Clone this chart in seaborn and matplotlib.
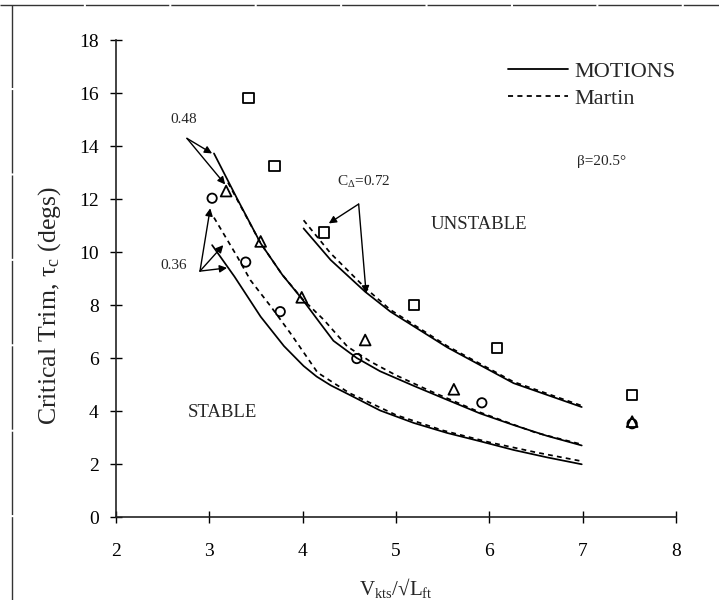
import matplotlib
matplotlib.use("Agg")
import matplotlib.pyplot as plt
from matplotlib.lines import Line2D
import numpy as np
import pandas as pd
import seaborn as sns

# Model curves: critical trim versus speed coefficient for three load coefficients
mot72_x = [4.01, 4.30, 4.67, 4.94, 5.55, 6.26, 6.99]
mot72_y = [10.89, 9.70, 8.50, 7.75, 6.40, 5.05, 4.15]
mar72_x = [4.01, 4.30, 4.67, 4.94, 5.55, 6.26, 6.99]
mar72_y = [11.20, 9.95, 8.65, 7.82, 6.45, 5.10, 4.20]

mot48_x = [3.05, 3.30, 3.55, 3.78, 4.00, 4.18, 4.33, 4.58, 4.83, 5.19, 5.55, 5.90, 6.26, 6.62, 6.99]
mot48_y = [13.72, 12.00, 10.33, 9.15, 8.20, 7.35, 6.65, 6.00, 5.50, 4.95, 4.42, 3.91, 3.47, 3.06, 2.70]
mar48_x = [3.20, 3.55, 3.78, 4.00, 4.23, 4.48, 4.73, 5.00, 5.37, 5.90, 6.50, 6.99]
mar48_y = [12.62, 10.33, 9.15, 8.22, 7.43, 6.43, 5.86, 5.35, 4.75, 3.95, 3.18, 2.74]

mot36_x = [3.03, 3.27, 3.55, 3.80, 4.01, 4.15, 4.30, 4.48, 4.83, 5.19, 5.55, 5.90, 6.26, 6.62, 6.99]
mot36_y = [10.26, 9.07, 7.56, 6.45, 5.70, 5.30, 4.97, 4.65, 4.02, 3.55, 3.17, 2.86, 2.53, 2.25, 1.99]
mar36_x = [3.05, 3.30, 3.44, 3.66, 3.87, 4.16, 4.50, 5.00, 5.50, 6.00, 6.50, 6.97]
mar36_y = [11.30, 9.82, 8.94, 7.94, 6.93, 5.45, 4.68, 3.85, 3.27, 2.82, 2.44, 2.12]

# Experimental points
sq_x = [3.42, 3.70, 4.23, 5.19, 6.08, 7.53]
sq_y = [15.80, 13.25, 10.74, 8.00, 6.39, 4.60]
tri_x = [3.18, 3.55, 3.99, 4.67, 5.62, 7.53]
tri_y = [12.30, 10.40, 8.29, 6.68, 4.82, 3.60]
circ_x = [3.03, 3.39, 3.76, 4.58, 5.92, 7.53]
circ_y = [12.03, 9.62, 7.75, 5.98, 4.31, 3.52]

x_ticks = [2, 3, 4, 5, 6, 7, 8]
y_ticks = [0, 2, 4, 6, 8, 10, 12, 14, 16, 18]

sns.set_style("ticks")
plt.rcParams["font.family"] = ["Liberation Serif", "DejaVu Serif"]
plt.rcParams["mathtext.fontset"] = "custom"
plt.rcParams["mathtext.rm"] = "Liberation Serif"
plt.rcParams["mathtext.it"] = "Liberation Serif:italic"

curves = []
for name, method, xs, ys in [
    ("m72", "MOTIONS", mot72_x, mot72_y), ("d72", "Martin", mar72_x, mar72_y),
    ("m48", "MOTIONS", mot48_x, mot48_y), ("d48", "Martin", mar48_x, mar48_y),
    ("m36", "MOTIONS", mot36_x, mot36_y), ("d36", "Martin", mar36_x, mar36_y),
]:
    curves.append(pd.DataFrame({"x": xs, "y": ys, "curve": name, "method": method}))
df = pd.concat(curves, ignore_index=True)

fig = plt.figure(figsize=(7.19, 6.0), dpi=100)
ax = fig.add_axes([0.1613, 0.1383, 0.7789, 0.795])

sns.lineplot(data=df, x="x", y="y", units="curve", style="method",
             estimator=None, sort=False, color="black", linewidth=1.25,
             dashes={"MOTIONS": "", "Martin": (2.8, 2.4)},
             style_order=["MOTIONS", "Martin"], legend=False, ax=ax)

for xs, ys, mk, sz in [(sq_x, sq_y, "s", 55), (tri_x, tri_y, "^", 60), (circ_x, circ_y, "o", 45)]:
    sns.scatterplot(x=xs, y=ys, marker=mk, s=sz, ax=ax, legend=False)
    pts = ax.collections[-1]
    pts.set_facecolor("none")
    pts.set_edgecolor("black")
    pts.set_linewidth(1.3)

ax.set_xlim(2, 8)
ax.set_ylim(0, 18)
ax.set_xticks(x_ticks)
ax.set_yticks(y_ticks)
ax.tick_params(direction="inout", length=9, width=1.0, labelsize=14, colors="black")
ax.tick_params(axis="x", pad=14)
ax.tick_params(axis="y", pad=8)
sns.despine(ax=ax)
for side in ("left", "bottom"):
    ax.spines[side].set_linewidth(1.2)
    ax.spines[side].set_color("#222222")

ax.set_xlabel(r"V$_{\mathrm{kts}}$/√L$_{\mathrm{ft}}$", fontsize=15)
ax.set_ylabel(r"Critical Trim, τ$_{\mathrm{c}}$ (degs)", fontsize=18.5)
ax.xaxis.set_label_coords(0.5, -0.149)
ax.xaxis.label.set_va("center")
ax.yaxis.set_label_coords(-0.118, 0.444)
ax.yaxis.label.set_va("center")

handles = [Line2D([], [], color="black", lw=1.3),
           Line2D([], [], color="black", lw=1.3, dashes=(2.8, 2.4))]
ax.legend(handles, ["MOTIONS", "Martin"], loc="upper left",
          bbox_to_anchor=(0.70, 0.955), frameon=False, fontsize=16,
          handlelength=2.7, handletextpad=0.3, labelspacing=0.3,
          borderpad=0, borderaxespad=0)

arrow = dict(arrowstyle="-|>", color="black", lw=1.0, mutation_scale=11,
             shrinkA=0, shrinkB=0)

# load coefficient 0.48
ax.text(2.73, 15.0, "0.48", fontsize=11, ha="center", va="center")
for tip in [(3.03, 13.72), (3.17, 12.55)]:
    ax.annotate("", xy=tip, xytext=(2.76, 14.29), arrowprops=arrow)

# load coefficient 0.36
ax.text(2.62, 9.5, "0.36", fontsize=11, ha="center", va="center")
for tip in [(3.01, 11.65), (3.15, 10.26), (3.19, 9.40)]:
    ax.annotate("", xy=tip, xytext=(2.90, 9.28), arrowprops=arrow)

# load coefficient 0.72
ax.text(4.66, 12.65, r"C$_{\mathrm{Δ}}$=0.72", fontsize=11, ha="center", va="center")
for tip in [(4.28, 11.08), (4.68, 8.44)]:
    ax.annotate("", xy=tip, xytext=(4.60, 11.81), arrowprops=arrow)

ax.text(5.89, 11.02, "UNSTABLE", fontsize=13.5, ha="center", va="center")
ax.text(3.14, 3.94, "STABLE", fontsize=13.5, ha="center", va="center")
ax.text(7.2, 13.4, "β=20.5°", fontsize=11, ha="center", va="center")

# page border lines
fig.add_artist(Line2D([0, 1], [0.9917, 0.9917], transform=fig.transFigure,
                      color="#333333", lw=1.0, dashes=(60, 1.5)))
fig.add_artist(Line2D([0.0167, 0.0167], [0, 0.9917], transform=fig.transFigure,
                      color="#333333", lw=1.0, dashes=(60, 1.5)))

fig.savefig("out.png", dpi=100)
